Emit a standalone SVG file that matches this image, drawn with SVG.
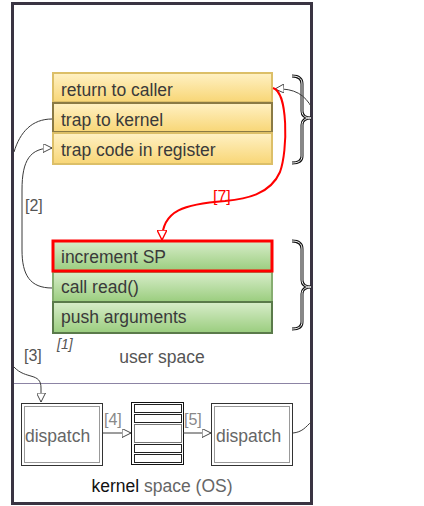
<svg xmlns="http://www.w3.org/2000/svg" width="424" height="506" viewBox="0 0 424 506">
<defs>
<linearGradient id="gy" x1="0" y1="0" x2="0" y2="1"><stop offset="0" stop-color="#fff1c4"/><stop offset="1" stop-color="#f8d676"/></linearGradient>
<linearGradient id="gg" x1="0" y1="0" x2="0" y2="1"><stop offset="0" stop-color="#d8edca"/><stop offset="1" stop-color="#9acd7e"/></linearGradient>
<marker id="ah" viewBox="0 0 10 10" refX="10" refY="5" markerWidth="9" markerHeight="9" markerUnits="userSpaceOnUse" orient="auto"><path d="M0,0 L10,5 L0,10 z" fill="#fff" stroke="#333" stroke-width="1"/></marker>
<marker id="ahr" viewBox="0 0 10 10" refX="10" refY="5" markerWidth="10" markerHeight="10" markerUnits="userSpaceOnUse" orient="auto"><path d="M0,0 L10,5 L0,10 z" fill="#fff" stroke="#f00" stroke-width="1.4"/></marker>
<style>
.t{font-family:"Liberation Sans",Arial,sans-serif;font-size:17.5px;fill:#3a3a3a}
.lb{font-family:"Liberation Sans",Arial,sans-serif;font-size:16px;fill:#555}
.c{fill:none;stroke:#3a3a3a;stroke-width:1}
.y{fill:url(#gy);stroke:#dcbf68;stroke-width:2}
.g{fill:url(#gg);stroke:#86ad70;stroke-width:2}
.br1{fill:none;stroke:#111;stroke-width:3}
.br2{fill:none;stroke:#fff;stroke-width:1}
.db1{fill:#fff;stroke:#333;stroke-width:1}
.db2{fill:none;stroke:#999;stroke-width:1}
</style>
</defs>
<rect x="12.5" y="3.5" width="299" height="500" fill="#fff" stroke="#3a3442" stroke-width="3"/>
<line x1="14" y1="383.5" x2="310" y2="383.5" stroke="#8c84a4" stroke-width="1"/>

<g id="yellow-stack">
<g id="n-return"><rect class="y" x="53" y="73" width="219" height="29"/><text class="t" x="61" y="96">return to caller</text></g>
<g id="n-trapkernel"><rect class="y" x="53" y="103" width="219" height="29" style="stroke:#8a7a44"/><text class="t" x="61" y="126">trap to kernel</text></g>
<g id="n-trapcode"><rect class="y" x="53" y="133" width="219" height="31"/><text class="t" x="61" y="156">trap code in register</text></g>
</g>
<g id="green-stack">
<g id="n-callread"><rect class="g" x="53" y="272" width="219" height="30"/><text class="t" x="61" y="293">call read()</text></g>
<g id="n-push"><rect class="g" x="53" y="302" width="219" height="31" style="stroke:#5a7a4a"/><text class="t" x="61" y="323">push arguments</text></g>
<g id="n-incsp"><rect class="g" x="53" y="241" width="219" height="30" style="stroke:#ff0000;stroke-width:3"/><text class="t" x="61" y="263">increment SP</text></g>
</g>

<g id="braces">
<path class="br1" d="M292,76 C298,76 302,78 302,84 L302,111 C302,116 306,118 311,118 C306,118 302,120 302,125 L302,156 C302,161 298,163 292,163"/>
<path class="br2" d="M292,76 C298,76 302,78 302,84 L302,111 C302,116 306,118 311,118 C306,118 302,120 302,125 L302,156 C302,161 298,163 292,163"/>
<path class="br1" d="M292,241 C298,241 302,243 302,249 L302,280 C302,285 306,287 311,287 C306,287 302,289 302,294 L302,322 C302,327 298,329 292,329"/>
<path class="br2" d="M292,241 C298,241 302,243 302,249 L302,280 C302,285 306,287 311,287 C306,287 302,289 302,294 L302,322 C302,327 298,329 292,329"/>
</g>

<g id="n-dispatch1"><rect class="db1" x="21.5" y="403.5" width="81" height="62"/><rect class="db2" x="24.5" y="406.5" width="75" height="56"/><text class="t" x="25" y="442" style="fill:#666">dispatch</text></g>
<g id="n-table">
<rect x="131.5" y="402.5" width="52" height="62" fill="#fff" stroke="#111" stroke-width="1"/>
<rect x="134.5" y="404.5" width="47" height="8" fill="#fff" stroke="#222"/>
<rect x="134.5" y="414.5" width="47" height="8" fill="#fff" stroke="#222"/>
<rect x="134.5" y="424.5" width="47" height="18" fill="#fff" stroke="#777"/>
<rect x="134.5" y="444.5" width="47" height="8" fill="#fff" stroke="#222"/>
<rect x="134.5" y="454.5" width="47" height="8" fill="#fff" stroke="#222"/>
</g>
<g id="n-dispatch2"><rect class="db1" x="211.5" y="403.5" width="81" height="62"/><rect class="db2" x="214.5" y="406.5" width="75" height="56"/><text class="t" x="216" y="442" style="fill:#666">dispatch</text></g>

<g id="connectors">
<path class="c" d="M52,119 C32,119 20,132 14,152"/>
<path class="c" d="M14,367 C26,380 41,372 41,388 L41,402" marker-end="url(#ah)"/>
<path class="c" d="M52,288 C30,288 22,275 22,250 L22,190 C22,160 30,148 52,148" marker-end="url(#ah)"/>
<path class="c" d="M103,433 L131,433" marker-end="url(#ah)"/>
<path class="c" d="M183,433 L211,433" marker-end="url(#ah)"/>
<path class="c" d="M293,433 C302,432 305,428 312,421"/>
<path class="c" d="M312,108 C305,95 295,88 275,89" marker-end="url(#ah)"/>
<path d="M273,88 C288,92 288,150 280,172 C270,195 245,199 225,201 C185,204 162,210 162,240" fill="none" stroke="#f00" stroke-width="2" marker-end="url(#ahr)"/>
</g>

<g id="labels">
<text class="lb" x="213" y="202" style="fill:#f00">[7]</text>
<text class="lb" x="25" y="211">[2]</text>
<text class="lb" x="24" y="361">[3]</text>
<text class="lb" x="104" y="425" style="fill:#888">[4]</text>
<text class="lb" x="184" y="425" style="fill:#888">[5]</text>
<text class="lb" x="57" y="349" style="font-style:italic;font-size:14px">[1]</text>
<text class="t" x="162" y="363" text-anchor="middle" style="fill:#555">user space</text>
<text class="t" x="162" y="492" text-anchor="middle" style="fill:#666"><tspan style="fill:#111">kernel</tspan> space (OS)</text>
</g>
</svg>
